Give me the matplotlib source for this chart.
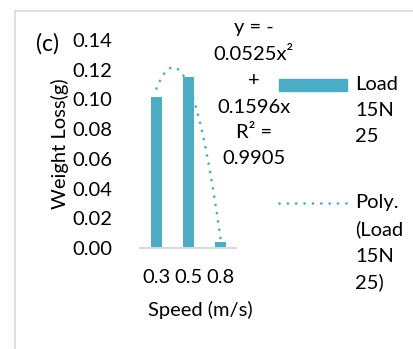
import numpy as np
import matplotlib
matplotlib.use("Agg")
import matplotlib.pyplot as plt
from matplotlib.lines import Line2D
from matplotlib.patches import Rectangle

# ---- data ----
categories = ["0.3", "0.5", "0.8"]
weight_loss = [0.1014, 0.1153, 0.0042]
y_ticks = [0.00, 0.02, 0.04, 0.06, 0.08, 0.10, 0.12, 0.14]
eq_lines = ["y = -", "0.0525x\u00b2", "+", "0.1596x", "R\u00b2 =", "0.9905"]
legend_bar = ["Load", "15N", "25"]
legend_line = ["Poly.", "(Load", "15N", "25)"]

BAR = "#4BACC6"
GRID = "#D9D9D9"
TXT = "#000000"
plt.rcParams['font.family'] = ['Lato', 'DejaVu Sans']
FS = 14.5
LW = 2.0
DOTS = (0, (0.01, 3.0))

W, H = 414, 349
fig = plt.figure(figsize=(W / 100, H / 100), dpi=100)
fig.patch.set_facecolor("white")

def fx(px):
    return px / W

def fy(py):
    return 1 - py / H

# axes placement (pixels)
L, R, T, B = 140.5, 236.5, 40, 248
ax = fig.add_axes([fx(L), fy(B), fx(R) - fx(L), fy(T) - fy(B)])
x = np.arange(1, len(categories) + 1)
ax.bar(x, weight_loss, width=0.33, color=BAR, zorder=2)

# polynomial trendline (order 2, intercept 0), fitted from data
xs = np.asarray(x, float)
A = np.vstack([xs ** 2, xs]).T
coef, *_ = np.linalg.lstsq(A, np.asarray(weight_loss), rcond=None)
xc = np.linspace(1, 3, 200)
yc = coef[0] * xc ** 2 + coef[1] * xc
ax.plot(xc, yc, color=BAR, lw=LW, linestyle=DOTS,
        dash_capstyle="round", zorder=3)

ax.set_xlim(0.5, 3.5)
ax.set_ylim(0, 0.14)
ax.set_yticks(y_ticks)
ax.set_yticklabels([f"{v:.2f}" for v in y_ticks], fontsize=FS, color=TXT)
ax.set_xticks(x)
ax.set_xticklabels(categories, fontsize=FS, color=TXT)
ax.tick_params(axis="y", length=0, pad=20)
ax.tick_params(axis="x", length=0, pad=15)
for s in ["top", "right", "left"]:
    ax.spines[s].set_visible(False)
ax.spines["bottom"].set_color(GRID)
ax.spines["bottom"].set_linewidth(1.5)
ax.patch.set_alpha(0)

# axis titles
fig.text(fx(60), fy(144), "Weight Loss(g)", rotation=90, ha="center", va="center",
         fontsize=FS, color=TXT)
fig.text(fx(200), fy(310), "Speed (m/s)", ha="center", va="center",
         fontsize=FS, color=TXT)
fig.text(fx(48), fy(44), "(c)", ha="center", va="center", fontsize=FS + 2, color=TXT)

# equation label
eq_y = [28, 54, 81, 107, 133, 159]
for s, yy in zip(eq_lines, eq_y):
    fig.text(fx(254), fy(yy), s, ha="center", va="center", fontsize=FS, color=TXT)

# legend
fig.add_artist(Rectangle((fx(279), fy(91)), fx(347) - fx(279), fy(79) - fy(91),
                         transform=fig.transFigure, color=BAR))
for i, s in enumerate(legend_bar):
    fig.text(fx(355), fy(84 + 26.5 * i), s, ha="left", va="center", fontsize=FS, color=TXT)
fig.add_artist(Line2D([fx(279), fx(347)], [fy(203), fy(203)], transform=fig.transFigure,
                      color=BAR, lw=LW, linestyle=DOTS, dash_capstyle="round"))
for i, s in enumerate(legend_line):
    fig.text(fx(355), fy(203 + 26.5 * i), s, ha="left", va="center", fontsize=FS, color=TXT)

# chart area border (top and left)
fig.add_artist(Line2D([fx(14.5), 1], [fy(10.5), fy(10.5)], transform=fig.transFigure,
                      color=GRID, lw=1.2))
fig.add_artist(Line2D([fx(14.5), fx(14.5)], [fy(10.5), 0], transform=fig.transFigure,
                      color=GRID, lw=1.2))

fig.savefig("out.png", dpi=100, facecolor="white")
